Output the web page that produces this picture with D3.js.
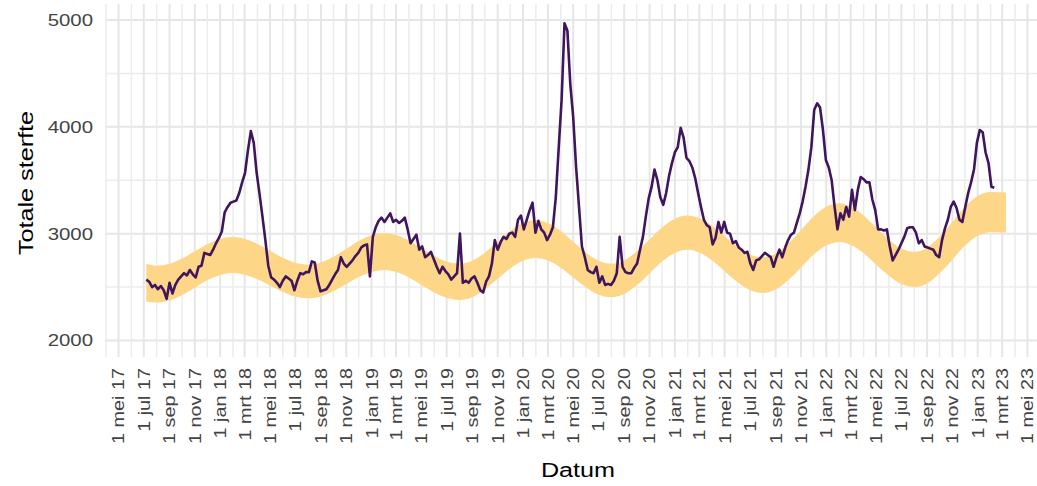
<!DOCTYPE html>
<html><head><meta charset="utf-8">
<script src="https://cdn.jsdelivr.net/npm/d3@7"></script>
<style>html,body{margin:0;padding:0;background:#fff;}svg{display:block;}</style>
</head><body>
<svg id="c" width="1037" height="486"></svg>
<script>
// ---- data ----
const monthsNL = ["jan","feb","mrt","apr","mei","jun","jul","aug","sep","okt","nov","dec"];
const yMajor = [2000, 3000, 4000, 5000];
const yMinor = [2500, 3500, 4500];
const yLabel = "Totale sterfte";
const xLabel = "Datum";
const firstWeek = "2017-07-07"; // weekly series start
const deaths = [
2570,2550,2500,2520,2480,2510,2470,2390,2540,2440,
2520,2570,2600,2630,2610,2660,2620,2590,2690,2700,
2820,2810,2800,2850,2910,2960,3020,3200,3250,3290,
3300,3310,3380,3480,3570,3780,3960,3850,3570,3370,
3160,2940,2700,2590,2570,2540,2500,2560,2600,2580,
2560,2470,2560,2630,2620,2640,2640,2740,2730,2560,
2460,2470,2480,2520,2570,2620,2660,2780,2720,2690,
2720,2750,2790,2820,2870,2890,2900,2600,2970,3060,
3120,3150,3110,3150,3190,3110,3130,3100,3120,3150,
3040,2910,2950,2990,2850,2880,2780,2800,2830,2760,
2690,2630,2690,2650,2620,2570,2600,2630,3000,2540,
2560,2540,2580,2600,2540,2470,2450,2550,2600,2720,
2940,2850,2920,2970,2950,3000,3010,2970,3130,3170,
3040,3130,3220,3290,3010,3120,3040,3010,2940,2990,
3060,3340,3800,4250,4970,4900,4400,4090,3620,3250,
2880,2780,2660,2640,2630,2690,2540,2600,2520,2530,
2520,2560,2630,2970,2690,2640,2630,2630,2680,2720,
2850,2970,3160,3330,3440,3600,3500,3340,3270,3380,
3540,3660,3760,3810,3990,3900,3710,3680,3620,3520,
3380,3250,3130,3080,3060,2900,2960,3110,3010,3110,
3010,3000,2910,2930,2870,2850,2820,2830,2720,2660,
2750,2760,2790,2820,2800,2780,2690,2780,2850,2780,
2870,2940,2990,3010,3100,3190,3300,3440,3600,3810,
4160,4220,4180,3970,3690,3620,3500,3250,3040,3190,
3130,3250,3160,3410,3220,3410,3530,3510,3480,3480,
3320,3220,3040,3040,3030,3040,2880,2750,2800,2850,
2910,2970,3050,3060,3060,3010,2910,2940,2880,2870,
2860,2850,2800,2780,2940,3050,3130,3250,3300,3240,
3130,3110,3250,3380,3480,3600,3850,3970,3950,3760,
3660,3440,3430
];
// expected range (monthly, Jul 2017 .. Mar 2023)
const bandLow = [
2365,2355,2374,2424,2494,2563,
2613,2632,2616,2573,2514,2454,2411,2395,2413,2461,2528,2594,
2642,2660,2641,2590,2520,2450,2399,2380,2406,2478,2577,2675,
2747,2773,2748,2681,2589,2497,2430,2405,2435,2516,2628,2739,
2820,2850,2823,2749,2648,2546,2472,2445,2477,2564,2684,2803,
2890,2922,2894,2817,2711,2606,2528,2500,2534,2629,2757,2886,
2980,3014,3010
];
const bandHigh = [
2715,2700,2718,2767,2835,2902,
2951,2969,2952,2904,2840,2775,2727,2710,2730,2784,2858,2932,
2986,3006,2987,2935,2863,2792,2739,2720,2747,2822,2924,3026,
3101,3128,3101,3026,2924,2822,2747,2720,2750,2833,2945,3058,
3140,3170,3144,3073,2975,2878,2806,2780,2814,2906,3033,3159,
3251,3285,3255,3171,3058,2944,2860,2830,2868,2970,3110,3250,
3353,3390,3385
];

// ---- layout ----
const svg = d3.select("#c");
const P = {left: 105, right: 1037, top: 4, bottom: 357};
const x = d3.scaleUtc().domain([new Date(Date.UTC(2017,4,1)), new Date(Date.UTC(2023,4,1))]).range([118.5, 1027.5]);
const y = d3.scaleLinear().domain([2000, 5000]).range([340.5, 20]);

const locale = d3.timeFormatLocale({
  dateTime: "%a %e %B %Y %X", date: "%d-%m-%Y", time: "%H:%M:%S",
  periods: ["AM","PM"],
  days: ["zondag","maandag","dinsdag","woensdag","donderdag","vrijdag","zaterdag"],
  shortDays: ["zo","ma","di","wo","do","vr","za"],
  months: ["januari","februari","maart","april","mei","juni","juli","augustus","september","oktober","november","december"],
  shortMonths: monthsNL
});
const fmt = locale.utcFormat("%-d %b %y");

const majorDates = d3.utcMonth.range(new Date(Date.UTC(2017,4,1)), new Date(Date.UTC(2023,4,2)), 2);
const allMonths = d3.utcMonth.range(new Date(Date.UTC(2017,3,1)), new Date(Date.UTC(2023,5,1)));
const minorDates = allMonths.filter(d => !majorDates.some(m => +m === +d));

// grid
const g = svg.append("g");
g.selectAll("line.ymin").data(yMinor).join("line")
  .attr("x1", P.left).attr("x2", P.right).attr("y1", d => y(d)).attr("y2", d => y(d))
  .attr("stroke", "#ececec").attr("stroke-width", 1.5);
g.selectAll("line.ymaj").data(yMajor).join("line")
  .attr("x1", P.left).attr("x2", P.right).attr("y1", d => y(d)).attr("y2", d => y(d))
  .attr("stroke", "#e6e6e6").attr("stroke-width", 2);
g.selectAll("line.xmin").data(minorDates).join("line")
  .attr("x1", d => x(d)).attr("x2", d => x(d)).attr("y1", P.top).attr("y2", P.bottom)
  .attr("stroke", "#ececec").attr("stroke-width", 1.5);
g.selectAll("line.xmaj").data(majorDates).join("line")
  .attr("x1", d => x(d)).attr("x2", d => x(d)).attr("y1", P.top).attr("y2", P.bottom)
  .attr("stroke", "#e6e6e6").attr("stroke-width", 2);

// band
const bandDates = [new Date(Date.UTC(2017,6,7)), ...d3.utcMonth.range(new Date(Date.UTC(2017,7,1)), new Date(Date.UTC(2023,2,1))), new Date(Date.UTC(2023,2,10))];
const band = bandDates.map((d, i) => ({d, lo: bandLow[i], hi: bandHigh[i]}));
svg.append("path").datum(band)
  .attr("fill", "#fdd688")
  .attr("d", d3.area().x(d => x(d.d)).y0(d => y(d.lo)).y1(d => y(d.hi)).curve(d3.curveMonotoneX));

// line
const t0 = new Date(firstWeek + "T00:00:00Z");
const series = deaths.map((v, i) => ({d: d3.utcDay.offset(t0, 7 * i), v}));
svg.append("path").datum(series)
  .attr("fill", "none").attr("stroke", "#3f155e").attr("stroke-width", 2.6).attr("stroke-linejoin", "round")
  .attr("d", d3.line().x(d => x(d.d)).y(d => y(d.v)).curve(d3.curveLinear));

// axes text
const FONT = "'Liberation Sans', Arial, Helvetica, sans-serif";
svg.append("g").selectAll("text").data(yMajor).join("text")
  .attr("transform", d => `translate(93,${y(d)}) scale(1.2,1)`)
  .attr("text-anchor", "end").attr("dy", "0.35em")
  .attr("font-family", FONT).attr("font-size", 17).attr("fill", "#444")
  .text(d => d);

svg.append("g").selectAll("text").data(majorDates).join("text")
  .attr("transform", d => `translate(${x(d)},368) rotate(-90) scale(1.2,1)`)
  .attr("text-anchor", "end").attr("dy", "0.36em")
  .attr("font-family", FONT).attr("font-size", 16.5).attr("fill", "#444")
  .text(d => fmt(d));

svg.append("text")
  .attr("transform", "translate(25,183) rotate(-90) scale(1.2,1)")
  .attr("text-anchor", "middle").attr("dy", "0.36em")
  .attr("font-family", FONT).attr("font-size", 21).attr("fill", "#000")
  .text(yLabel);

svg.append("text")
  .attr("transform", "translate(578,477) scale(1.2,1)")
  .attr("text-anchor", "middle")
  .attr("font-family", FONT).attr("font-size", 21).attr("fill", "#000")
  .text(xLabel);
</script>
</body></html>
